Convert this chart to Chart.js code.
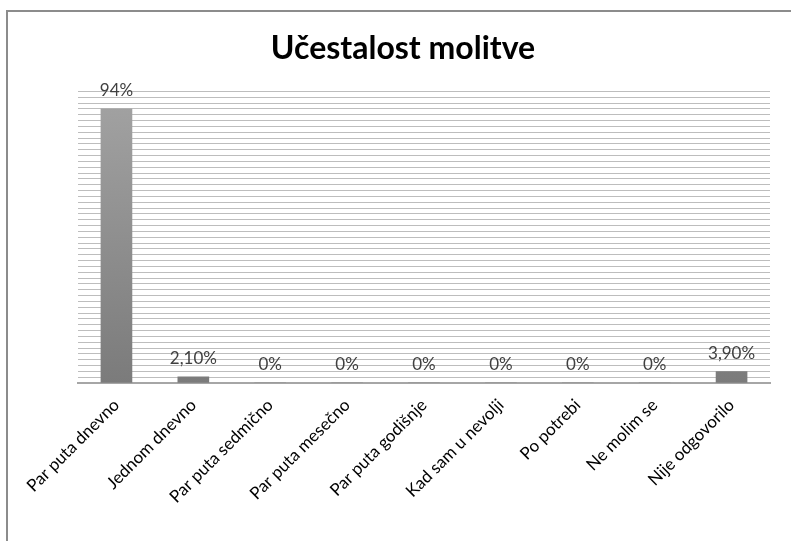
<!DOCTYPE html>
<html lang="sr">
<head>
  <meta charset="UTF-8">
  <title>Učestalost molitve</title>
  <style>
    body { margin: 0; background: #fff; overflow: hidden; }
    #frame {
      position: absolute; left: 6px; top: 10px; width: 900px; height: 700px;
      border-left: 2px solid #8c8c8c; border-top: 2px solid #8c8c8c;
    }
    #chart-container { position: absolute; left: 0; top: 0; width: 791px; height: 541px; }
  </style>
</head>
<body>
<div id="frame"></div>
<div id="chart-container">
  <canvas id="barChart"></canvas>
</div>

<script src="https://cdn.jsdelivr.net/npm/chart.js"></script>
<script>
  const categories = ['Par puta dnevno', 'Jednom dnevno', 'Par puta sedmično', 'Par puta mesečno',
    'Par puta godišnje', 'Kad sam u nevolji', 'Po potrebi', 'Ne molim se', 'Nije odgovorilo'];
  const values = [94, 2.1, 0, 0, 0, 0, 0, 0, 3.9];
  const valueLabels = ['94%', '2,10%', '0%', '0%', '0%', '0%', '0%', '0%', '3,90%'];

  // labels above bars
  const valueLabelPlugin = {
    id: 'valueLabels',
    afterDatasetsDraw(chart) {
      const ctx = chart.ctx;
      const meta = chart.getDatasetMeta(0);
      ctx.save();
      ctx.font = '17px Lato, sans-serif';
      ctx.fillStyle = '#404040';
      ctx.textAlign = 'center';
      ctx.textBaseline = 'bottom';
      meta.data.forEach((bar, i) => {
        ctx.fillText(valueLabels[i], bar.x, bar.y - 10);
      });
      ctx.restore();
    }
  };

  function barFill(context) {
    const area = context.chart.chartArea;
    if (!area) return '#8c8c8c';
    const g = context.chart.ctx.createLinearGradient(0, area.top, 0, area.bottom);
    g.addColorStop(0, '#a3a3a3');
    g.addColorStop(1, '#7b7b7b');
    return g;
  }

  const ctx = document.getElementById('barChart').getContext('2d');
  const myChart = new Chart(ctx, {
    type: 'bar',
    data: {
      labels: categories,
      datasets: [{
        data: values,
        backgroundColor: barFill,
        barThickness: 31
      }]
    },
    plugins: [valueLabelPlugin],
    options: {
      responsive: true,
      maintainAspectRatio: false,
      animation: false,
      layout: { padding: { left: 36, right: 21, top: 0, bottom: 0 } },
      plugins: {
        legend: { display: false },
        tooltip: { enabled: false },
        title: {
          display: true,
          text: 'Učestalost molitve',
          color: '#000',
          font: { family: 'Lato, sans-serif', size: 32, weight: 'bold' },
          padding: { top: 29, bottom: 24 }
        }
      },
      scales: {
        x: {
          grid: { display: false },
          border: { color: '#a6a6a6', width: 2 },
          ticks: {
            color: '#000',
            font: { family: 'Lato, sans-serif', size: 17 },
            minRotation: 45,
            maxRotation: 45,
            padding: 4
          },
          afterFit(scale) { scale.height = 158; }
        },
        y: {
          min: 0,
          max: 100,
          ticks: { display: false, stepSize: 2 },
          border: { display: false },
          grid: { color: '#bdbdbd', lineWidth: 1, drawTicks: false },
          afterFit(scale) { scale.width = 42; }
        }
      }
    }
  });
</script>
</body>
</html>
